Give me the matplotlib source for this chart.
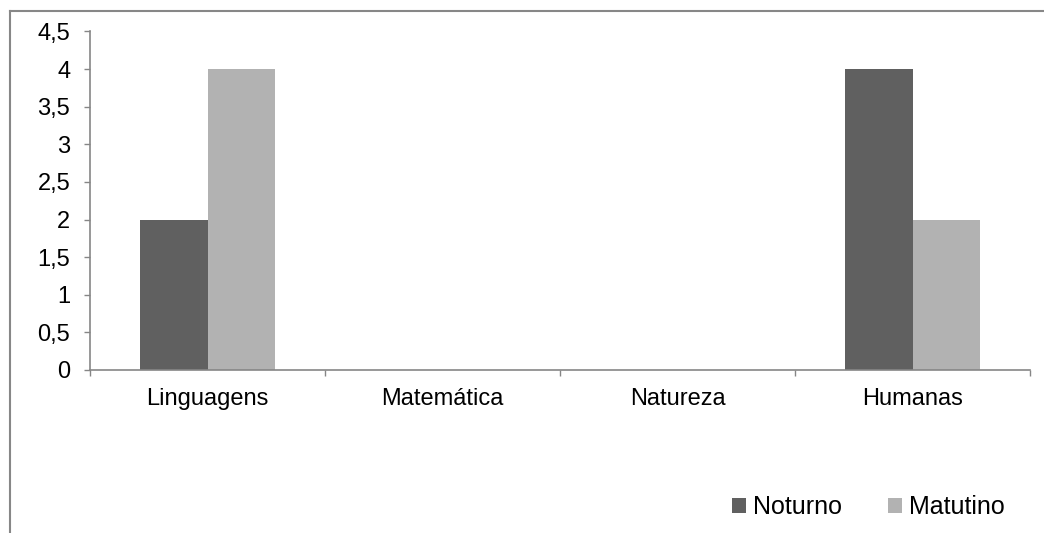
import numpy as np
import matplotlib
matplotlib.use("Agg")
import matplotlib.pyplot as plt
from matplotlib.lines import Line2D
from matplotlib.patches import Patch

plt.rcParams["font.family"] = ["Liberation Sans", "DejaVu Sans"]

# dados
areas = ["Linguagens", "Matemática", "Natureza", "Humanas"]
noturno = [2, 0, 0, 4]
matutino = [4, 0, 0, 2]
series = ["Noturno", "Matutino"]
cores = ["#606060", "#b2b2b2"]
yticks = [0, 0.5, 1, 1.5, 2, 2.5, 3, 3.5, 4, 4.5]

cinza = "#868686"

fig = plt.figure(figsize=(10.44, 5.33), dpi=100)
ax = fig.add_axes([90 / 1044, 1 - 370 / 533, 940 / 1044, 338.6 / 533])

x = np.arange(len(areas))
w = 1 / 3.5
ax.bar(x - w / 2, noturno, w, color=cores[0], linewidth=0)
ax.bar(x + w / 2, matutino, w, color=cores[1], linewidth=0)

ax.set_xlim(-0.5, len(areas) - 0.5)
ax.set_ylim(0, 4.5)

ax.set_yticks(yticks)
ax.set_yticklabels([("%g" % v).replace(".", ",") for v in yticks])
ax.set_xticks(x)
ax.set_xticklabels(areas)
ax.set_xticks(np.arange(-0.5, len(areas)), minor=True)

ax.tick_params(axis="y", direction="out", length=4.3, width=1, color=cinza,
               labelsize=17, pad=10)
ax.tick_params(axis="x", which="major", length=0, labelsize=17, pad=13)
ax.tick_params(axis="x", which="minor", direction="out", length=4.3, width=1,
               color=cinza)

for s in ["top", "right"]:
    ax.spines[s].set_visible(False)
for s in ["left", "bottom"]:
    ax.spines[s].set_color(cinza)
    ax.spines[s].set_linewidth(1.2)

# legenda
handles = [Patch(facecolor=c, linewidth=0) for c in cores]
fig.legend(handles, series, loc="center left",
           bbox_to_anchor=(732 / 1044, 1 - 507 / 533), ncol=2, frameon=False,
           fontsize=18, handlelength=0.56, handleheight=0.56, handletextpad=0.28,
           columnspacing=1.85, borderpad=0, borderaxespad=0)

# moldura
fig.add_artist(Line2D([9.5 / 1044, 9.5 / 1044], [0, 1 - 11 / 533],
                      transform=fig.transFigure, color="#878787", lw=1.5))
fig.add_artist(Line2D([9.5 / 1044, 1], [1 - 11 / 533, 1 - 11 / 533],
                      transform=fig.transFigure, color="#878787", lw=1.5))

fig.savefig("out.png", dpi=100)
